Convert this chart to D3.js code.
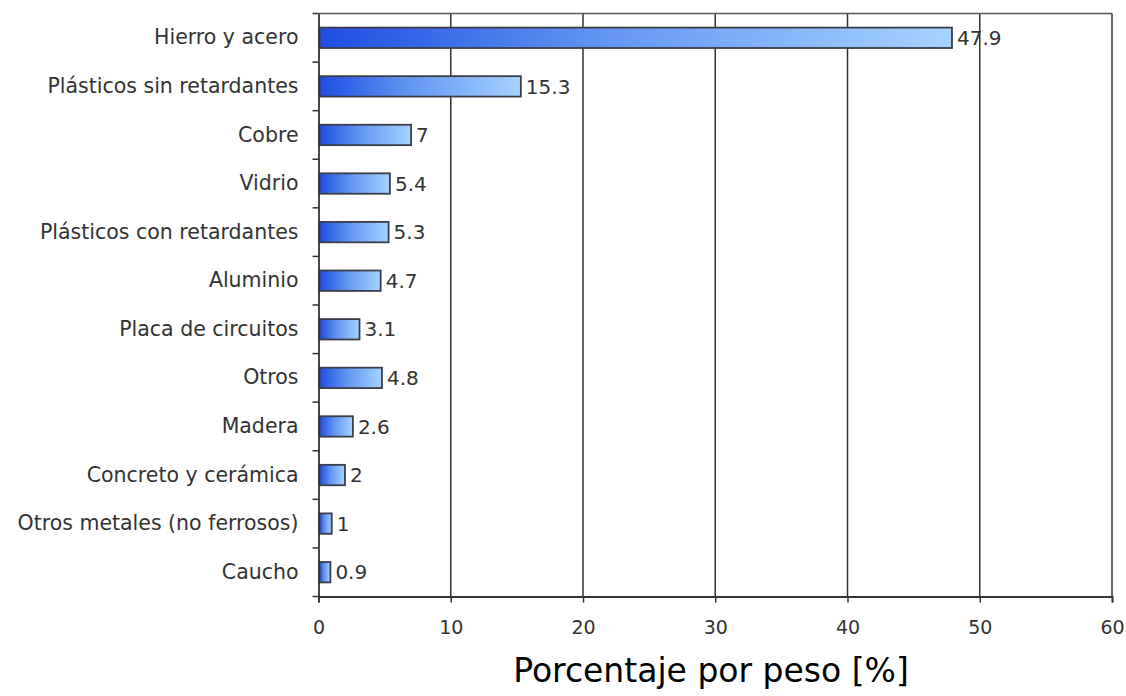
<!DOCTYPE html>
<html>
<head>
<meta charset="utf-8">
<script src="https://cdn.jsdelivr.net/npm/d3@7"></script>
<style>
  html, body { margin: 0; padding: 0; background: #fff; }
  svg { display: block; }
</style>
</head>
<body>
<svg id="chart" width="1126" height="696"></svg>
<script>
// Composition of waste electrical equipment by weight
const categories = [
  "Hierro y acero",
  "Plásticos sin retardantes",
  "Cobre",
  "Vidrio",
  "Plásticos con retardantes",
  "Aluminio",
  "Placa de circuitos",
  "Otros",
  "Madera",
  "Concreto y cerámica",
  "Otros metales (no ferrosos)",
  "Caucho"
];
const values = [47.9, 15.3, 7, 5.4, 5.3, 4.7, 3.1, 4.8, 2.6, 2, 1, 0.9];
const valueLabels = ["47.9", "15.3", "7", "5.4", "5.3", "4.7", "3.1", "4.8", "2.6", "2", "1", "0.9"];
const xTicks = [0, 10, 20, 30, 40, 50, 60];
const xTitle = "Porcentaje por peso [%]";

const svg = d3.select("#chart");
const plotLeft = 318.5, plotRight = 1112, plotTop = 13.5, plotBottom = 596.5;
const font = "'DejaVu Sans', Verdana, sans-serif";

const x = d3.scaleLinear().domain([0, 60]).range([plotLeft, plotRight]);
const y = d3.scaleBand().domain(categories).range([plotTop, plotBottom]).paddingInner(0.58).paddingOuter(0.29);

const defs = svg.append("defs");
const grad = defs.append("linearGradient").attr("id", "barFill")
  .attr("x1", "0").attr("x2", "1").attr("y1", "0").attr("y2", "0");
grad.append("stop").attr("offset", "0%").attr("stop-color", "#1f4de2");
grad.append("stop").attr("offset", "45%").attr("stop-color", "#6396f2");
grad.append("stop").attr("offset", "100%").attr("stop-color", "#a6d3ff");

const ink = "#333";

// vertical gridlines
svg.append("g").selectAll("line")
  .data(xTicks.slice(1))
  .join("line")
  .attr("x1", d => x(d)).attr("x2", d => x(d))
  .attr("y1", plotTop).attr("y2", plotBottom)
  .attr("stroke", ink).attr("stroke-width", 1.5);

// top frame line
svg.append("line")
  .attr("x1", plotLeft).attr("x2", plotRight).attr("y1", plotTop).attr("y2", plotTop)
  .attr("stroke", "#555").attr("stroke-width", 1.5);

// bars
svg.append("g").selectAll("rect")
  .data(values)
  .join("rect")
  .attr("x", x(0) + 1)
  .attr("y", (d, i) => y(categories[i]))
  .attr("width", d => x(d) - x(0) - 1)
  .attr("height", y.bandwidth())
  .attr("fill", "url(#barFill)")
  .attr("stroke", "#3a3d4a")
  .attr("stroke-width", 1.8);

// value labels
svg.append("g").selectAll("text")
  .data(values)
  .join("text")
  .attr("x", d => x(d) + 5)
  .attr("y", (d, i) => y(categories[i]) + y.bandwidth() / 2)
  .attr("dy", "0.36em")
  .attr("font-family", font)
  .attr("font-size", 20)
  .attr("fill", ink)
  .text((d, i) => valueLabels[i]);

// x axis
const xAxis = svg.append("g")
  .attr("transform", `translate(0,${plotBottom})`)
  .call(d3.axisBottom(x).tickValues(xTicks).tickSize(6).tickPadding(18).tickFormat(d3.format("d")));
xAxis.select(".domain").attr("stroke", ink).attr("stroke-width", 1.8);
xAxis.selectAll(".tick line").attr("stroke", ink).attr("stroke-width", 1.5);
xAxis.selectAll(".tick text")
  .attr("font-family", font)
  .attr("font-size", 19).attr("fill", ink);

// y axis with ticks at category boundaries
const yAxis = svg.append("g")
  .attr("transform", `translate(${plotLeft},0)`)
  .call(d3.axisLeft(y).tickSize(0).tickPadding(20));
yAxis.select(".domain").attr("stroke", ink).attr("stroke-width", 1.8);
yAxis.selectAll(".tick text")
  .attr("font-family", font)
  .attr("font-size", 20.5).attr("fill", ink);

const step = y.step();
const bounds = d3.range(categories.length + 1).map(i => plotTop + i * step);
svg.append("g").selectAll("line")
  .data(bounds)
  .join("line")
  .attr("x1", plotLeft - 6).attr("x2", plotLeft)
  .attr("y1", d => d).attr("y2", d => d)
  .attr("stroke", ink).attr("stroke-width", 1.5);

// axis title
svg.append("text")
  .attr("x", 711).attr("y", 682)
  .attr("text-anchor", "middle")
  .attr("font-family", font)
  .attr("font-size", 33)
  .attr("fill", "#000")
  .text(xTitle);
</script>
</body>
</html>
